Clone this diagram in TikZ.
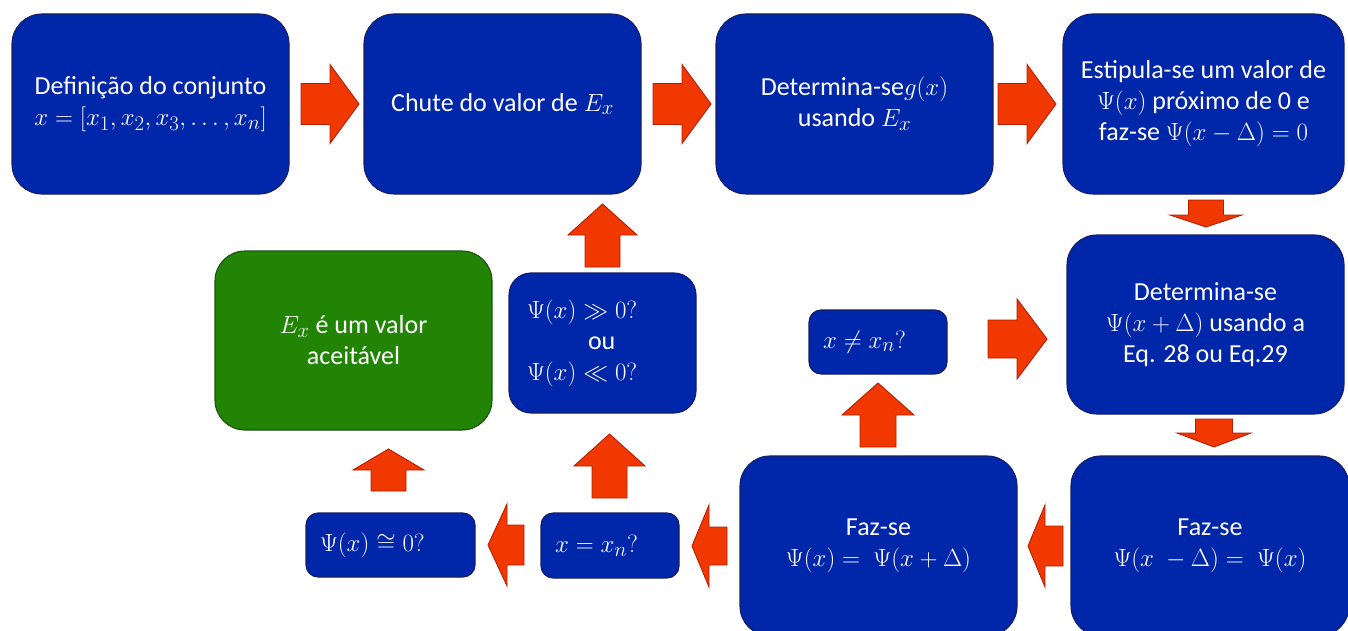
\documentclass[tikz,border=0pt]{standalone}
\usepackage{amsmath,amssymb}
\usepackage[no-math]{fontspec}
\setmainfont{Carlito}
\definecolor{boxblue}{RGB}{0,38,170}
\definecolor{boxedge}{RGB}{20,30,100}
\definecolor{boxgreen}{RGB}{34,132,4}
\definecolor{greenedge}{RGB}{30,80,20}
\definecolor{arrfill}{RGB}{240,56,0}
\definecolor{arredge}{RGB}{180,30,0}
\newcommand\mth[1]{{\fontsize{28.5}{31}\selectfont$#1$}}
\tikzset{
  bigbox/.style={draw=boxedge, fill=boxblue, line width=1.1pt, rounded corners=30pt,
    text=white, align=center, inner sep=0pt,
    font=\fontsize{26}{31}\selectfont},
  okbox/.style={bigbox, draw=greenedge, fill=boxgreen},
  smallbox/.style={draw=boxedge, fill=boxblue, line width=1.1pt, rounded corners=12pt,
    text=white, align=left, inner xsep=14pt, inner ysep=0pt,
    font=\fontsize{26}{31}\selectfont},
  blockarrow/.style={fill=arrfill, draw=arredge, line width=0.9pt, line join=miter}
}
% tail point, angle, total length, head width, shaft width, head length
\newcommand\blockarr[6]{%
  \begin{scope}[shift={#1}, rotate=#2]
    \draw[blockarrow] (0,{-#5/2}) -- ({#3-#6},{-#5/2}) -- ({#3-#6},{-#4/2}) -- (#3,0)
      -- ({#3-#6},{#4/2}) -- ({#3-#6},{#5/2}) -- (0,{#5/2}) -- cycle;
  \end{scope}}
\begin{document}
\begin{tikzpicture}[x=1pt,y=-1pt]
\useasboundingbox (0,0) rectangle (1348,631);
\clip (0,0) rectangle (1348,631);
% boxes
\node[bigbox, minimum width=277pt, minimum height=180pt] (b1) at (150.5,104)
  {Definição do conjunto\\ \mth{x=[x_1,x_2,x_3,\ldots,x_n]}};
\node[bigbox, minimum width=277pt, minimum height=180pt] (b2) at (502.5,104)
  {Chute do valor de \mth{E_x}};
\node[bigbox, minimum width=277pt, minimum height=180pt] (b3) at (854.5,104)
  {Determina-se\mth{g(x)}\\ usando \mth{E_x}};
\node[bigbox, minimum width=281pt, minimum height=180pt] (b4) at (1203.5,104)
  {Estipula-se um valor de\\ \mth{\Psi(x)} próximo de 0 e\\ faz-se \mth{\Psi(x-\Delta)=0}};
\node[bigbox, minimum width=277pt, minimum height=179pt] (b5) at (1205.5,324.5)
  {Determina-se\\ \mth{\Psi(x+\Delta)} usando a\\ Eq. 28 ou Eq.29};
\node[bigbox, minimum width=278pt, minimum height=180pt] (b6) at (1210,546)
  {Faz-se\\ \mth{\Psi(x\ -\Delta)=\ \Psi(x)}};
\node[bigbox, minimum width=277pt, minimum height=180pt] (b7) at (878.5,546)
  {Faz-se\\ \mth{\Psi(x)=\ \Psi(x+\Delta)}};
\node[okbox, minimum width=277pt, minimum height=179pt] (ok) at (353.5,340.5)
  {\mth{E_x} é um valor\\ aceitável};
\node[smallbox, rounded corners=22pt, inner xsep=18pt, text width=151pt, minimum height=140pt] (b11) at (602.5,343)
  {\mth{\Psi(x)\gg 0?}\\ \hspace*{61pt}ou\\ \mth{\Psi(x)\ll 0?}};
\node[smallbox, text width=110pt, minimum height=64pt] (b8) at (878,342)
  {\mth{x\neq x_n?}};
\node[smallbox, text width=110pt, minimum height=65pt] (b9) at (610,545.5)
  {\mth{x=x_n?}};
\node[smallbox, text width=141pt, minimum height=64pt] (b10) at (390.5,545)
  {\mth{\Psi(x)\cong 0?}};
% block arrows
\blockarr{(301,104)}{0}{58}{79}{41}{29}
\blockarr{(653,104)}{0}{58}{79}{41}{29}
\blockarr{(998,104)}{0}{58}{79}{41}{29}
\blockarr{(1206,200)}{-90}{27}{72}{35}{12}
\blockarr{(1214,419)}{-90}{28}{74}{37}{14}
\blockarr{(1063,546)}{180}{35}{82}{40}{17}
\blockarr{(727,546)}{180}{35}{82}{38}{17}
\blockarr{(524,545)}{180}{36}{82}{40}{19}
\blockarr{(388.5,491)}{90}{42}{71}{35}{21}
\blockarr{(609.5,498)}{90}{64}{71}{35}{32}
\blockarr{(602.5,267)}{90}{63}{69}{35}{31}
\blockarr{(878,447)}{90}{64}{72}{36}{32}
\blockarr{(988,339)}{0}{59}{80}{38}{30}
\end{tikzpicture}
\end{document}
